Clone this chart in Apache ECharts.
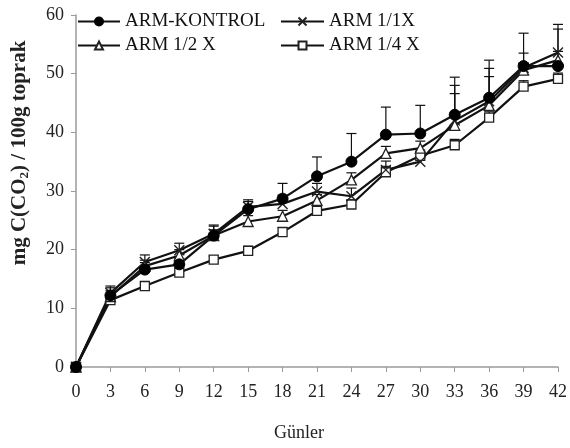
<!DOCTYPE html>
<html><head><meta charset="utf-8">
<script src="https://cdn.jsdelivr.net/npm/echarts@6/dist/echarts.min.js"></script>
<style>html,body{margin:0;padding:0;background:#fff}#c{width:570px;height:448px}</style>
</head><body><div id="c"></div>
<script>
var days = [0,3,6,9,12,15,18,21,24,27,30,33,36,39,42];
var kontrol = [0,12.2,16.6,17.5,22.4,26.9,28.7,32.5,35.0,39.6,39.8,43.0,45.9,51.3,51.3];
var arm11 = [0,12.6,17.9,19.9,22.7,27.3,27.8,29.9,29.1,33.6,35.0,42.0,45.3,51.0,53.6];
var arm12 = [0,12.0,17.2,19.0,22.4,24.8,25.7,28.4,31.9,36.4,37.3,41.2,44.6,50.6,52.3];
var arm14 = [0,11.4,13.8,16.1,18.3,19.8,23.0,26.6,27.7,33.2,36.0,37.8,42.5,47.8,49.1];
var errKontrol = [0,1.3,1.2,1.0,1.6,1.3,2.6,3.3,4.8,4.7,4.8,6.4,6.4,5.6,7.1];
var err11 = [0,1.2,1.2,1.2,1.5,1.2,1.5,1.4,1.4,1.5,1.5,6.0,5.6,2.5,4.0];
var err12 = [0,1.0,1.0,1.0,1.0,1.0,1.0,1.0,1.2,1.2,1.2,5.4,4.9,1.2,1.5];
var err14 = [0,0.8,0.8,0.8,0.6,0.8,0.8,0.8,0.8,1.0,1.0,1.0,1.0,1.0,1.0];
var yTicks = [0,10,20,30,40,50,60];
var names = ['ARM-KONTROL','ARM 1/1X','ARM 1/2 X','ARM 1/4 X'];

var serif = '"Liberation Serif","DejaVu Serif",serif';
function pairs(v){ return days.map(function(d,i){return [d,v[i]];}); }
function errData(v,e){ return days.map(function(d,i){return [d,v[i],v[i]+e[i]];}); }
function errSeries(v,e){
  return {
    type:'custom', silent:true, z:1,
    data: errData(v,e),
    renderItem:function(params,api){
      var p0 = api.coord([api.value(0),api.value(1)]);
      var p1 = api.coord([api.value(0),api.value(2)]);
      var s = {stroke:'#111',lineWidth:1.2,fill:null};
      return {type:'group',children:[
        {type:'line',shape:{x1:p0[0],y1:p0[1],x2:p1[0],y2:p1[1]},style:s},
        {type:'line',shape:{x1:p1[0]-5,y1:p1[1],x2:p1[0]+5,y2:p1[1]},style:s}
      ]};
    }
  };
}
var lineBase = {type:'line', z:3, lineStyle:{color:'#111',width:2.2}, emphasis:{disabled:true}};
function mk(name,data,symbol,size,style){
  return Object.assign({},lineBase,{name:name,data:pairs(data),symbol:symbol,symbolSize:size,itemStyle:style});
}
var legText = {fontFamily:serif,fontSize:19,color:'#111'};
var chart = echarts.init(document.getElementById('c'));
chart.setOption({
  animation:false,
  grid:{left:76,right:10,top:15,bottom:81,containLabel:false},
  legend:[
    {left:77,top:12,padding:0,orient:'vertical',itemWidth:42,itemHeight:10,itemGap:5,
     data:[names[0],names[2]],textStyle:legText},
    {left:280,top:12,padding:0,orient:'vertical',itemWidth:43,itemHeight:10,itemGap:5,
     data:[names[1],names[3]],textStyle:legText}
  ],
  xAxis:{type:'value',min:0,max:42,interval:3,
    name:'Günler',nameLocation:'middle',nameGap:57,
    nameTextStyle:{fontFamily:serif,fontSize:18,color:'#222',padding:[0,36,0,0]},
    axisLine:{lineStyle:{color:'#9a9a9a',width:1.5}},
    axisTick:{show:true,length:5,lineStyle:{color:'#9a9a9a'}},
    axisLabel:{fontFamily:serif,fontSize:18,color:'#222',margin:16},
    splitLine:{show:false}},
  yAxis:{type:'value',min:0,max:60,interval:10,
    name:'mg C(CO{s|2}) / 100g toprak',nameLocation:'middle',nameGap:45,nameRotate:90,
    nameTextStyle:{fontFamily:serif,fontSize:21,fontWeight:'bold',color:'#222',padding:[0,0,0,76],
      rich:{s:{fontFamily:serif,fontSize:13,fontWeight:'bold',color:'#222',verticalAlign:'bottom',padding:[10,0,0,0]}}},
    axisLine:{show:true,lineStyle:{color:'#9a9a9a',width:1.5}},
    axisTick:{show:true,length:5,lineStyle:{color:'#9a9a9a'}},
    axisLabel:{fontFamily:serif,fontSize:18,color:'#222',margin:12,
      formatter:function(v){return yTicks.indexOf(v)>=0?String(v):'';}},
    splitLine:{show:false}},
  series:[
    errSeries(arm14,err14),errSeries(arm12,err12),errSeries(arm11,err11),errSeries(kontrol,errKontrol),
    mk(names[3],arm14,'rect',9,{color:'#fff',borderColor:'#222',borderWidth:1.3}),
    mk(names[2],arm12,'triangle',10,{color:'#fff',borderColor:'#222',borderWidth:1.3}),
    mk(names[1],arm11,'path://M0,0L10,10M10,0L0,10',10,{color:'#fff',borderColor:'#222',borderWidth:1.4}),
    mk(names[0],kontrol,'circle',11,{color:'#000',borderColor:'#000',borderWidth:1})
  ]
});
</script></body></html>
